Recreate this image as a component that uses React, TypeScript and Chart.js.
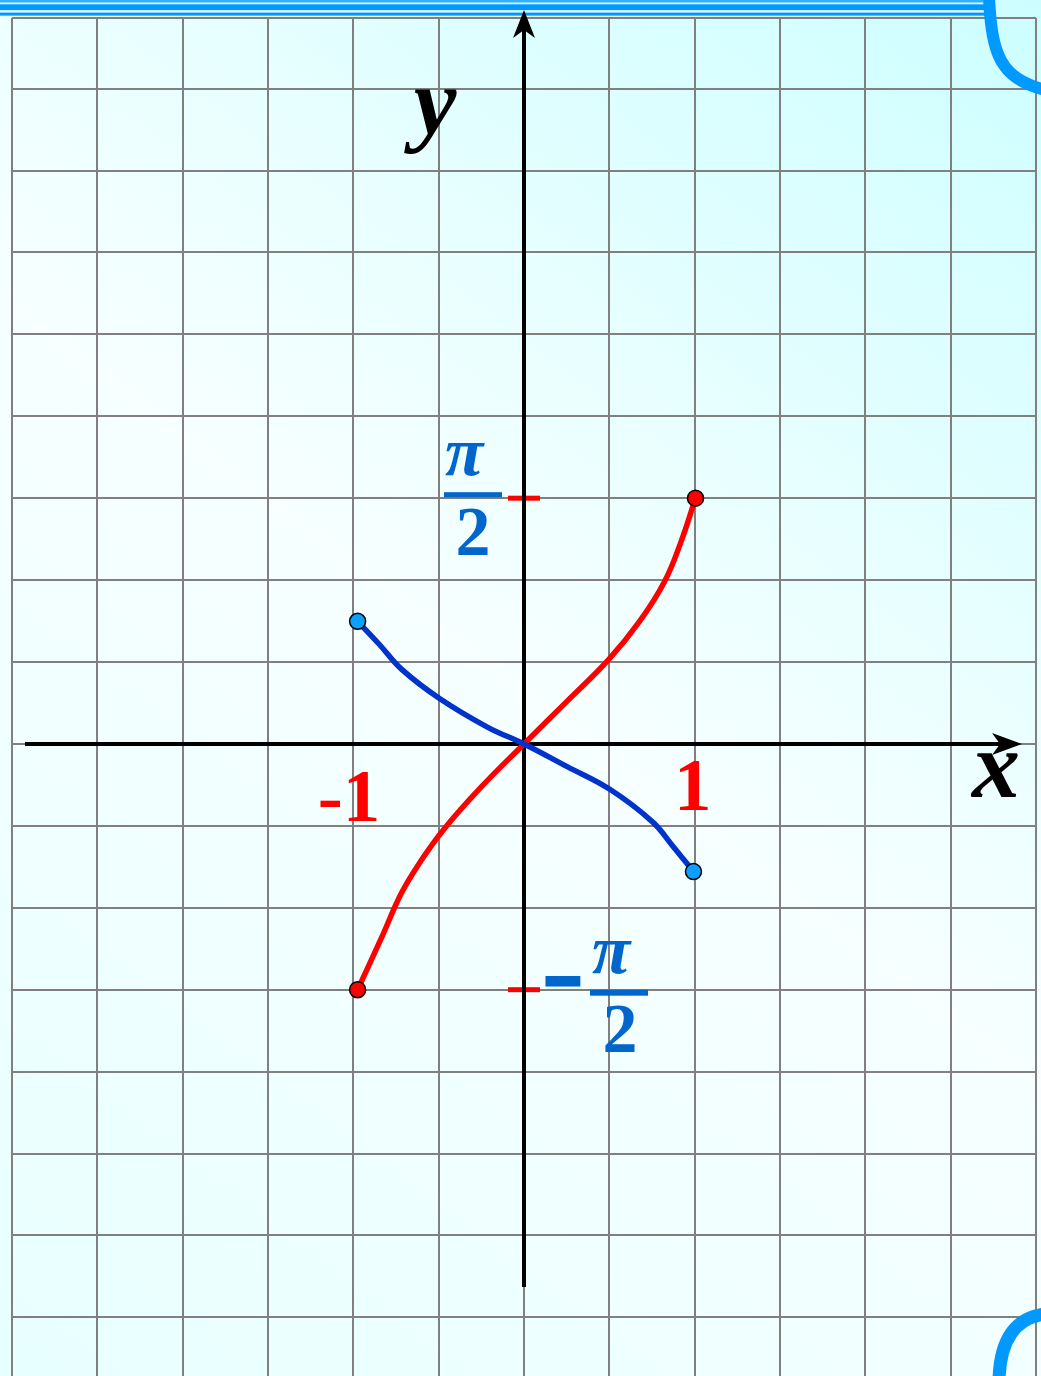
import React, { useEffect, useRef } from "react";
import { Chart, registerables } from "chart.js";

Chart.register(...registerables);

// ---- data (x in units, y in radians) ----
const redX = [-0.975, -0.834, -0.718, -0.602, -0.468, -0.253, 0, 0.247, 0.497, 0.677, 0.823, 0.922, 1.005];
const redY = [-1.571, -1.237, -0.953, -0.744, -0.543, -0.278, 0, 0.267, 0.54, 0.783, 1.037, 1.298, 1.571];

const blueX = [-0.975, -0.846, -0.718, -0.497, -0.212, 0, 0.253, 0.503, 0.753, 0.87, 0.993];
const blueY = [0.784, 0.634, 0.478, 0.292, 0.106, 0, -0.145, -0.29, -0.498, -0.65, -0.816];

// axis labels
const xTickLabels = ["-1", "1"];
const xTickValues = [-1, 1];
const yMarkValues = [Math.PI / 2, -Math.PI / 2];
const axisNames = ["x", "y"];

// scale ranges
const X_MIN = -3;
const X_MAX = 3;
const X_STEP = 0.5;
const Y_MIN = -4.04;
const Y_MAX = 4.64;
const Y_STEP = Math.PI / 6;

const RED = "#ff0000";
const BLUE_LINE = "#0033cc";
const BLUE_DOT = "#0aa0ff";
const LABEL_BLUE = "#0066cc";
const STRIPE = "#0099ff";
const SERIF = '"Liberation Serif", "DejaVu Serif", serif';

const decorPlugin = {
  id: "decor",
  beforeDraw(chart: any) {
    const { ctx, width, height } = chart;
    ctx.save();
    const g = ctx.createLinearGradient(width, 0, 0, height);
    g.addColorStop(0, "#cdfeff");
    g.addColorStop(0.5, "#f7ffff");
    g.addColorStop(1, "#e8ffff");
    ctx.fillStyle = g;
    ctx.fillRect(0, 0, width, height);
    ctx.restore();
  },
  beforeDatasetsDraw(chart: any) {
    const { ctx, width, height } = chart;
    const xs = chart.scales.x;
    const ys = chart.scales.y;
    const x0 = xs.getPixelForValue(0);
    const y0 = ys.getPixelForValue(0);
    ctx.save();
    // top stripes
    ctx.fillStyle = "#dff6ff";
    ctx.fillRect(0, 0, 986, 16);
    ctx.fillStyle = "#30b0ff";
    ctx.fillRect(0, 0, 986, 2.5);
    ctx.fillStyle = STRIPE;
    ctx.fillRect(0, 4.3, 986, 5.8);
    ctx.fillRect(0, 12.6, 986, 3);
    // corner curls
    ctx.strokeStyle = STRIPE;
    ctx.lineWidth = 12;
    ctx.lineCap = "butt";
    ctx.beginPath();
    ctx.moveTo(989, -2);
    ctx.bezierCurveTo(992, 55, 1000, 78, width + 4, 90);
    ctx.stroke();
    ctx.lineWidth = 13;
    ctx.beginPath();
    ctx.moveTo(width + 4, 1314);
    ctx.bezierCurveTo(1015, 1318, 1000, 1340, 999, height + 4);
    ctx.stroke();
    // red marks at ±π/2
    ctx.fillStyle = RED;
    yMarkValues.forEach((v) => {
      const py = ys.getPixelForValue(v);
      ctx.fillRect(x0 - 16, py - 2.5, 32, 5);
    });
    // axes
    ctx.strokeStyle = "#000";
    ctx.fillStyle = "#000";
    ctx.lineWidth = 4;
    ctx.beginPath();
    ctx.moveTo(25, y0);
    ctx.lineTo(1004, y0);
    ctx.stroke();
    ctx.beginPath();
    ctx.moveTo(1022, y0);
    ctx.lineTo(992, y0 - 11);
    ctx.lineTo(1000, y0);
    ctx.lineTo(992, y0 + 11);
    ctx.closePath();
    ctx.fill();
    ctx.beginPath();
    ctx.moveTo(x0, 1287);
    ctx.lineTo(x0, 28);
    ctx.stroke();
    ctx.beginPath();
    ctx.moveTo(x0, 10);
    ctx.lineTo(x0 - 11, 38);
    ctx.lineTo(x0, 30);
    ctx.lineTo(x0 + 11, 38);
    ctx.closePath();
    ctx.fill();
    ctx.restore();
  },
  afterDraw(chart: any) {
    const { ctx } = chart;
    const xs = chart.scales.x;
    const ys = chart.scales.y;
    const x0 = xs.getPixelForValue(0);
    const y0 = ys.getPixelForValue(0);
    ctx.save();
    ctx.textAlign = "center";
    ctx.textBaseline = "alphabetic";

    // x tick labels (-1, 1)
    ctx.fillStyle = RED;
    ctx.font = `bold 75px ${SERIF}`;
    const xm1 = xs.getPixelForValue(xTickValues[0]);
    const xp1 = xs.getPixelForValue(xTickValues[1]);
    ctx.textAlign = "right";
    ctx.fillText(xTickLabels[0], xm1 + 27, y0 + 77);
    ctx.textAlign = "center";
    ctx.fillText(xTickLabels[1], xp1 - 2, y0 + 66);

    // π/2
    ctx.fillStyle = LABEL_BLUE;
    const pt = ys.getPixelForValue(yMarkValues[0]);
    ctx.font = `italic bold 70px ${SERIF}`;
    ctx.fillText("π", x0 - 60, pt - 23);
    ctx.fillRect(x0 - 80, pt - 6, 58, 5);
    ctx.font = `bold 70px ${SERIF}`;
    ctx.fillText("2", x0 - 51, pt + 57);

    // −π/2
    const pb = ys.getPixelForValue(yMarkValues[1]);
    ctx.font = `bold 62px ${SERIF}`;
    ctx.strokeStyle = LABEL_BLUE;
    ctx.lineWidth = 6;
    ctx.lineJoin = "miter";
    ctx.fillText("−", x0 + 39, pb + 12);
    ctx.strokeText("−", x0 + 39, pb + 12);
    ctx.font = `italic bold 70px ${SERIF}`;
    ctx.fillText("π", x0 + 87, pb - 17);
    ctx.fillRect(x0 + 66, pb, 58, 6);
    ctx.font = `bold 70px ${SERIF}`;
    ctx.fillText("2", x0 + 96, pb + 62);

    // axis names
    ctx.fillStyle = "#000";
    ctx.font = `italic bold 96px ${SERIF}`;
    ctx.fillText(axisNames[0], xs.right - 40, y0 + 53);
    ctx.fillText(axisNames[1], x0 - 89, ys.top + 116);
    ctx.restore();
  },
};

export default function App() {
  const ref = useRef<HTMLCanvasElement>(null);

  useEffect(() => {
    const canvas = ref.current;
    if (!canvas) return;
    const redData = redX.map((x, i) => ({ x, y: redY[i] }));
    const blueData = blueX.map((x, i) => ({ x, y: blueY[i] }));
    const endRadius = (n: number) => (c: any) => (c.dataIndex === 0 || c.dataIndex === n - 1 ? 8 : 0);

    const chart = new Chart(canvas, {
      type: "line",
      data: {
        datasets: [
          {
            data: blueData,
            borderColor: BLUE_LINE,
            borderWidth: 5.5,
            tension: 0.4,
            pointRadius: endRadius(blueData.length),
            pointBackgroundColor: BLUE_DOT,
            pointBorderColor: "#000",
            pointBorderWidth: 1.5,
            fill: false,
          },
          {
            data: redData,
            borderColor: RED,
            borderWidth: 5.5,
            tension: 0.4,
            pointRadius: endRadius(redData.length),
            pointBackgroundColor: RED,
            pointBorderColor: "#000",
            pointBorderWidth: 1.5,
            fill: false,
          },
        ],
      },
      options: {
        animation: false,
        responsive: false,
        devicePixelRatio: 1,
        events: [],
        layout: { autoPadding: false, padding: { left: 12, right: 5, top: 18, bottom: 0 } },
        plugins: { legend: { display: false }, tooltip: { enabled: false } },
        scales: {
          x: {
            type: "linear",
            min: X_MIN,
            max: X_MAX,
            afterBuildTicks: (scale: any) => {
              const t = [];
              for (let v = X_MIN; v <= X_MAX + 1e-9; v += X_STEP) t.push({ value: v });
              scale.ticks = t;
            },
            afterFit: (scale: any) => {
              scale.height = 0;
            },
            ticks: { display: false },
            grid: { color: "#808080", lineWidth: 2, drawTicks: false },
            border: { display: false },
          },
          y: {
            type: "linear",
            min: Y_MIN,
            max: Y_MAX,
            afterBuildTicks: (scale: any) => {
              const t = [];
              for (let k = -7; k <= 8; k++) t.push({ value: k * Y_STEP });
              t.push({ value: Y_MAX });
              scale.ticks = t;
            },
            afterFit: (scale: any) => {
              scale.width = 0;
            },
            ticks: { display: false },
            grid: { color: "#808080", lineWidth: 2, drawTicks: false },
            border: { display: false },
          },
        },
      },
      plugins: [decorPlugin],
    } as any);

    return () => chart.destroy();
  }, []);

  return (
    <div style={{ position: "absolute", left: 0, top: 0, width: 1041, height: 1376 }}>
      <canvas ref={ref} width={1041} height={1376} style={{ display: "block" }} />
    </div>
  );
}
